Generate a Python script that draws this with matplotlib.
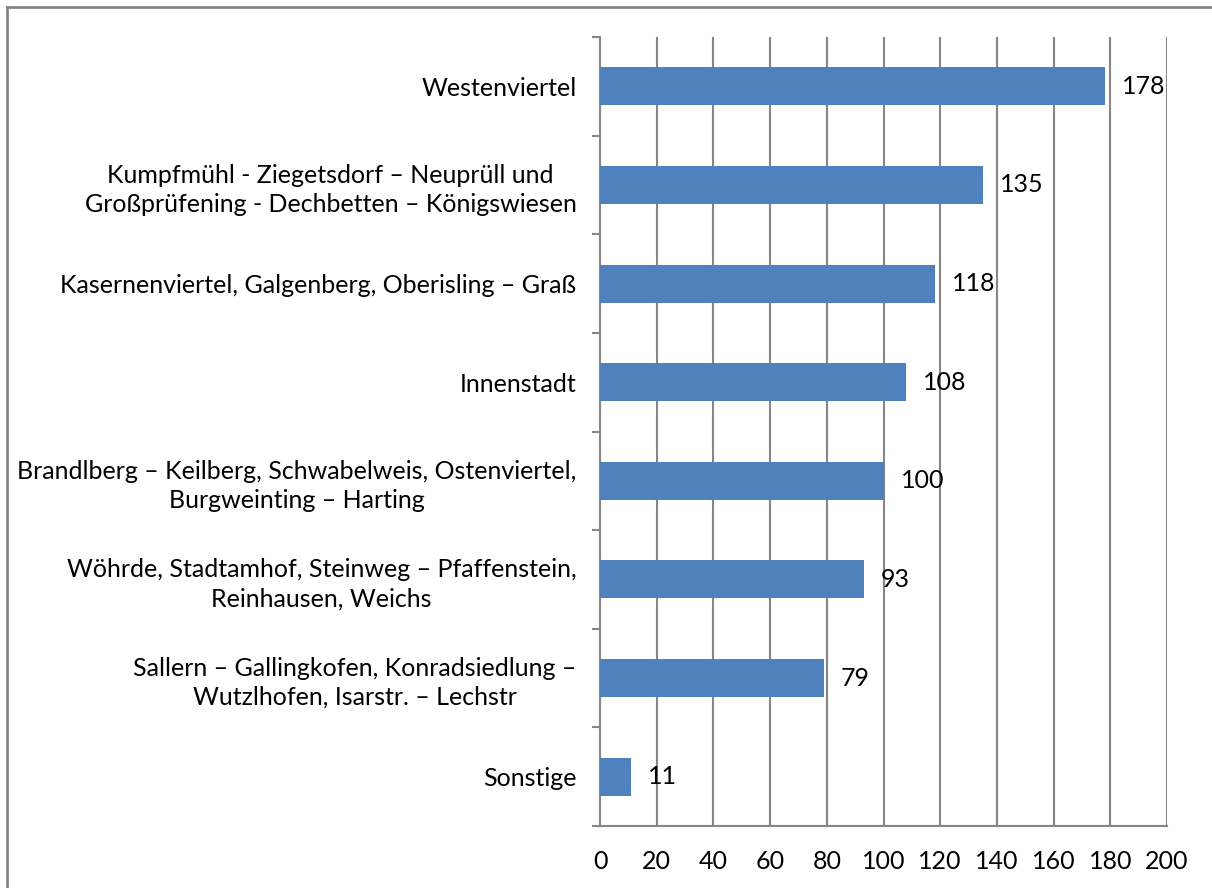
import matplotlib.pyplot as plt
from matplotlib.lines import Line2D

categories = [
    "Westenviertel",
    "Kumpfmühl - Ziegetsdorf – Neuprüll und\nGroßprüfening - Dechbetten – Königswiesen",
    "Kasernenviertel, Galgenberg, Oberisling – Graß",
    "Innenstadt",
    "Brandlberg – Keilberg, Schwabelweis, Ostenviertel,\nBurgweinting – Harting",
    "Wöhrde, Stadtamhof, Steinweg – Pfaffenstein,\nReinhausen, Weichs",
    "Sallern – Gallingkofen, Konradsiedlung –\nWutzlhofen, Isarstr. – Lechstr",
    "Sonstige",
]
values = [178, 135, 118, 108, 100, 93, 79, 11]
x_ticks = [0, 20, 40, 60, 80, 100, 120, 140, 160, 180, 200]

plt.rcParams["font.family"] = ["Lato", "DejaVu Sans"]

W, H = 1212, 888
fig = plt.figure(figsize=(W / 100, H / 100), dpi=100)
ax = fig.add_axes([600 / W, 1 - 826 / H, (1167 - 600) / W, (826 - 37) / H])

grey = "#868686"
n = len(categories)
pos = list(range(n))
ax.barh(pos, values, height=0.385, color="#4F81BD", zorder=3)
for p, v in zip(pos, values):
    ax.text(v + 6, p, str(v), va="center", ha="left", fontsize=18, zorder=4)

ax.set_xlim(0, 200)
ax.set_ylim(n - 0.5, -0.5)
ax.set_xticks(x_ticks)
ax.set_xticklabels([str(t) for t in x_ticks], fontsize=18)
ax.set_yticks(pos)
ax.set_yticklabels(categories, fontsize=18, multialignment="center", linespacing=1.3)
ax.tick_params(axis="y", length=0, pad=17)
ax.tick_params(axis="x", length=0, pad=17)

# category boundary ticks on the y axis
ax.set_yticks([i - 0.5 for i in range(n + 1)], minor=True)
ax.tick_params(axis="y", which="minor", length=6, width=1.5, color=grey)
ax.set_xticks(x_ticks, minor=True)
ax.tick_params(axis="x", which="minor", length=6, width=1.5, color=grey)

ax.grid(axis="x", color=grey, linewidth=1.5, zorder=0)
for s in ["top", "right"]:
    ax.spines[s].set_visible(False)
for s in ["left", "bottom"]:
    ax.spines[s].set_color(grey)
    ax.spines[s].set_linewidth(1.5)

# outer chart border (only top and left are visible in the crop)
fig.lines.append(Line2D([7 / W, 7 / W], [0, 1 - 7 / H], transform=fig.transFigure,
                        color=grey, linewidth=2))
fig.lines.append(Line2D([7 / W, 1], [1 - 7 / H, 1 - 7 / H], transform=fig.transFigure,
                        color=grey, linewidth=2))

fig.savefig("out.png", dpi=100)
